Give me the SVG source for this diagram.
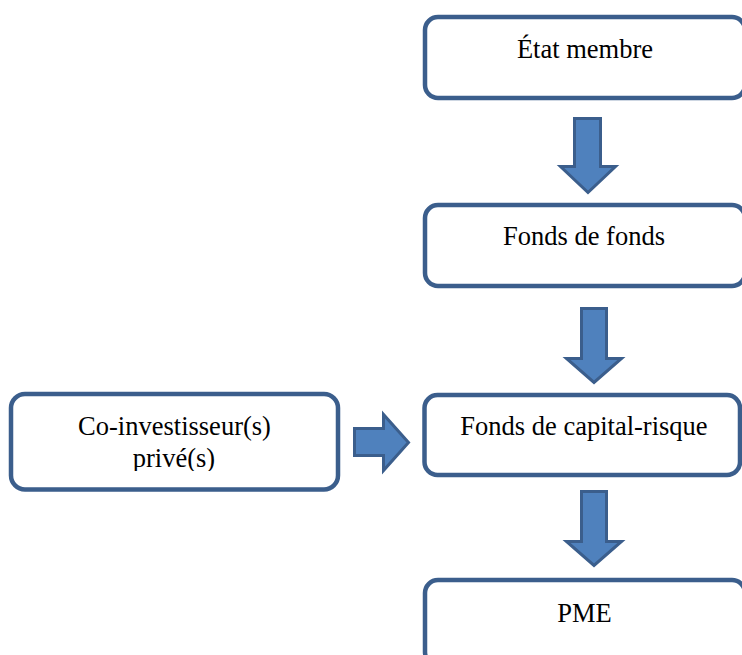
<svg xmlns="http://www.w3.org/2000/svg" width="742" height="655" viewBox="0 0 742 655">
<style>
.box{fill:#fff;stroke:#3B5E8C;stroke-width:4.5}
.arr{fill:#4F81BD;stroke:#3B5E8C;stroke-width:3;stroke-linejoin:miter}
.t{font-family:"Liberation Serif","Times New Roman",serif;font-size:26.5px;fill:#000;text-anchor:middle}
</style>
<defs>
<clipPath id="clipL"><rect x="0" y="0" width="742" height="471"/></clipPath>
</defs>
<rect width="742" height="655" fill="#fff"/>
<g id="connectors">
<path class="arr" d="M574.5,118.5 H600.5 V166.5 H615.5 L588,192.5 L560.5,166.5 H574.5 Z"/>
<path class="arr" d="M581.5,308.5 H606.5 V358.5 H621.5 L594,382.5 L566.5,358.5 H581.5 Z"/>
<path class="arr" d="M581.5,491.5 H606.5 V541.5 H621.5 L594,565.5 L566.5,541.5 H581.5 Z"/>
<path class="arr" d="M354.5,428.5 H383.5 V414.5 L408.5,442.5 L383.5,470.5 V455.5 H354.5 Z"/>
</g>
<g id="node-etat">
<rect class="box" x="425" y="17" width="320" height="81" rx="13"/>
<text class="t" x="585" y="58">État membre</text>
</g>
<g id="node-fdf">
<rect class="box" x="425" y="205" width="320" height="81" rx="13"/>
<text class="t" x="584" y="245">Fonds de fonds</text>
</g>
<g id="node-fcr">
<rect class="box" x="424.5" y="395" width="315.5" height="80" rx="13"/>
<text class="t" x="584" y="435">Fonds de capital-risque</text>
</g>
<g id="node-pme">
<rect class="box" x="425" y="580" width="320" height="85" rx="13"/>
<text class="t" x="584.5" y="622">PME</text>
</g>
<g id="node-coinv">
<rect class="box" x="11" y="394" width="327" height="95.5" rx="14"/>
<text class="t" x="174.5" y="435">Co-investisseur(s)</text>
<text class="t" x="174" y="467" clip-path="url(#clipL)">privé(s)</text>
</g>
</svg>
